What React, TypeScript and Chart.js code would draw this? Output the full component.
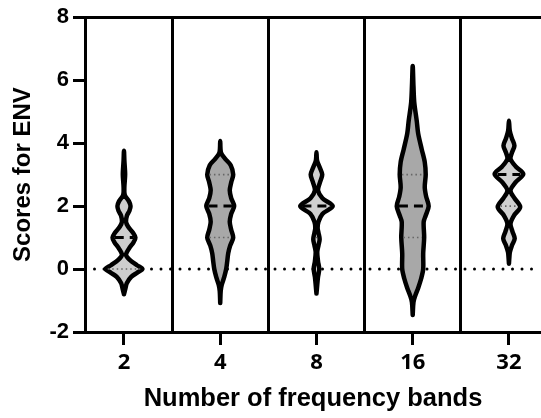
import React, { useEffect, useRef } from 'react';
import { Chart, registerables } from 'chart.js';

Chart.register(...registerables);

// ---- data ----
const categories = ['2', '4', '8', '16', '32'];
const yTickValues = [-2, 0, 2, 4, 6, 8];
const medians = [1, 2, 2, 2, 3];
const quartile1 = [0, 1, 1, 1, 2];
const quartile3 = [1, 3, 2, 3, 3];

// violin outlines: score levels and half-widths (in category units)
const v2Y = [-0.8, -0.62, -0.45, -0.25, -0.12, 0, 0.12, 0.3, 0.45, 0.65, 0.85, 1.0, 1.15, 1.35, 1.5, 1.7, 1.85, 2.0, 2.15, 2.35, 2.6, 3.0, 3.45, 3.76];
const v2W = [0, 0.015, 0.029, 0.075, 0.135, 0.192, 0.135, 0.057, 0.021, 0.052, 0.099, 0.119, 0.094, 0.042, 0.021, 0.031, 0.057, 0.068, 0.052, 0.008, 0.004, 0.012, 0.004, 0];

const v4Y = [-1.08, -0.7, -0.5, -0.25, 0, 0.25, 0.5, 0.75, 1.0, 1.25, 1.5, 1.75, 2.0, 2.25, 2.5, 2.75, 3.0, 3.3, 3.5, 3.7, 4.07];
const v4W = [0, 0.005, 0.016, 0.042, 0.062, 0.073, 0.083, 0.104, 0.135, 0.114, 0.099, 0.114, 0.145, 0.114, 0.099, 0.114, 0.135, 0.109, 0.052, 0.008, 0];

const v8Y = [-0.78, -0.5, -0.25, 0, 0.25, 0.54, 0.75, 0.95, 1.15, 1.3, 1.5, 1.75, 2.0, 2.25, 2.5, 2.75, 3.0, 3.25, 3.45, 3.71];
const v8W = [0, 0.008, 0.016, 0.029, 0.016, 0.008, 0.021, 0.033, 0.021, 0.012, 0.021, 0.062, 0.169, 0.062, 0.016, 0.036, 0.06, 0.031, 0.006, 0];

const v16Y = [-1.46, -1.05, -0.85, -0.6, -0.3, 0, 0.5, 1.0, 1.5, 1.7, 2.0, 2.3, 2.6, 3.0, 3.4, 3.8, 4.3, 4.7, 5.3, 5.8, 6.45];
const v16W = [0, 0.008, 0.026, 0.057, 0.088, 0.109, 0.109, 0.119, 0.114, 0.135, 0.166, 0.14, 0.125, 0.135, 0.125, 0.094, 0.057, 0.042, 0.016, 0.008, 0];

const v32Y = [0.17, 0.4, 0.54, 0.75, 0.97, 1.2, 1.44, 1.7, 1.97, 2.25, 2.49, 2.75, 3.02, 3.25, 3.5, 3.7, 3.92, 4.15, 4.4, 4.71];
const v32W = [0, 0.005, 0.01, 0.031, 0.06, 0.036, 0.016, 0.052, 0.117, 0.057, 0.016, 0.068, 0.149, 0.073, 0.016, 0.031, 0.057, 0.031, 0.008, 0];

const violinYs = [v2Y, v4Y, v8Y, v16Y, v32Y];
const violinWs = [v2W, v4W, v8W, v16W, v32W];

// ---- styling ----
const FILLS = ['#cecece', '#a8a8a8', '#d0d0d0', '#a8a8a8', '#d0d0d0'];
const X_MIN = -0.405;
const X_MAX = 4.333;
const STROKE = 4.5;
const STROKE_HALF_UNITS = 0.023;

function outline(center: number, ys: number[], ws: number[]) {
  const pts: { x: number; y: number }[] = [];
  for (let i = 0; i < ys.length; i++) pts.push({ x: center + ws[i], y: ys[i] });
  for (let i = ys.length - 2; i >= 0; i--) pts.push({ x: center - ws[i], y: ys[i] });
  return pts;
}

function halfWidthAt(ys: number[], ws: number[], y: number) {
  for (let i = 0; i < ys.length - 1; i++) {
    if (y >= ys[i] && y <= ys[i + 1]) {
      const t = (y - ys[i]) / (ys[i + 1] - ys[i]);
      return ws[i] + t * (ws[i + 1] - ws[i]);
    }
  }
  return 0;
}

export default function App() {
  const ref = useRef<HTMLCanvasElement | null>(null);

  useEffect(() => {
    if (!ref.current) return;
    const datasets: any[] = [];

    datasets.push({
      data: [{ x: X_MIN, y: 0 }, { x: X_MAX, y: 0 }],
      showLine: true,
      borderColor: '#000',
      borderWidth: 3,
      borderDash: [0, 9.5],
      borderCapStyle: 'round',
      pointRadius: 0,
      fill: false,
      order: 10,
    });

    categories.forEach((_, i) => {
      datasets.push({
        data: outline(i, violinYs[i], violinWs[i]),
        showLine: true,
        tension: 0.3,
        borderColor: '#000',
        borderWidth: STROKE,
        borderJoinStyle: 'round',
        borderCapStyle: 'round',
        backgroundColor: FILLS[i],
        fill: 'shape',
        pointRadius: 0,
        order: 5,
      });
    });

    categories.forEach((_, i) => {
      const addLine = (val: number, median: boolean) => {
        const hw = halfWidthAt(violinYs[i], violinWs[i], val) - STROKE_HALF_UNITS;
        if (hw <= 0.005) return;
        datasets.push({
          data: [{ x: i - hw, y: val }, { x: i + hw, y: val }],
          showLine: true,
          borderColor: median ? '#000' : '#666',
          borderWidth: median ? 3 : 1.6,
          borderDash: median ? [9, 6] : [1.5, 3],
          pointRadius: 0,
          fill: false,
          order: median ? 1 : 2,
        });
      };
      addLine(quartile1[i], false);
      if (quartile3[i] !== medians[i]) addLine(quartile3[i], false);
      addLine(medians[i], true);
    });

    const xTickValues: number[] = [];
    for (let v = 0; v <= categories.length - 1; v += 0.5) xTickValues.push(v);

    const chart = new Chart(ref.current, {
      type: 'scatter',
      data: { datasets },
      options: {
        animation: false,
        responsive: false,
        devicePixelRatio: 1,
        events: [],
        layout: { padding: { top: 16, right: 0, bottom: 0, left: 0 } },
        plugins: { legend: { display: false }, tooltip: { enabled: false } },
        scales: {
          x: {
            type: 'linear',
            min: X_MIN,
            max: X_MAX,
            afterBuildTicks: (scale: any) => {
              scale.ticks = xTickValues.map((v) => ({ value: v }));
            },
            afterFit: (scale: any) => {
              scale.height = 86;
            },
            ticks: {
              autoSkip: false,
              maxRotation: 0,
              padding: 5,
              color: '#000',
              font: { family: 'Open Sans', weight: 'bold', size: 22 },
              callback: (v: any) => (Number.isInteger(v) ? categories[v] : ''),
            },
            grid: {
              color: (ctx: any) => (ctx.tick && !Number.isInteger(ctx.tick.value) ? '#000' : 'rgba(0,0,0,0)'),
              tickColor: (ctx: any) => (ctx.tick && Number.isInteger(ctx.tick.value) ? '#000' : 'rgba(0,0,0,0)'),
              lineWidth: 3,
              tickWidth: 3,
              tickLength: 13,
            },
            border: { display: true, color: '#000', width: 3 },
            title: {
              display: true,
              text: 'Number of frequency bands',
              color: '#000',
              font: { family: 'Liberation Sans', weight: 'bold', size: 25.5 },
              padding: { top: 0, bottom: 4 },
            },
          },
          y: {
            type: 'linear',
            min: -2,
            max: 8,
            afterBuildTicks: (scale: any) => {
              scale.ticks = yTickValues.map((v) => ({ value: v }));
            },
            afterFit: (scale: any) => {
              scale.width = 85;
            },
            ticks: {
              padding: 4,
              color: '#000',
              font: { family: 'Liberation Sans', weight: 'bold', size: 22 },
            },
            grid: {
              color: (ctx: any) => (ctx.tick && ctx.tick.value === 8 ? '#000' : 'rgba(0,0,0,0)'),
              tickColor: '#000',
              lineWidth: 3,
              tickWidth: 3,
              tickLength: 12,
            },
            border: { display: true, color: '#000', width: 3 },
            title: {
              display: true,
              text: 'Scores for ENV',
              color: '#000',
              font: { family: 'Liberation Sans', weight: 'bold', size: 24 },
              padding: { top: 9, bottom: 0 },
            },
          },
        },
      } as any,
    });
    return () => chart.destroy();
  }, []);

  return (
    <div style={{ position: 'absolute', left: 0, top: 0, width: 541, height: 418, background: '#fff' }}>
      <canvas ref={ref} width={541} height={418} style={{ display: 'block' }} />
    </div>
  );
}
